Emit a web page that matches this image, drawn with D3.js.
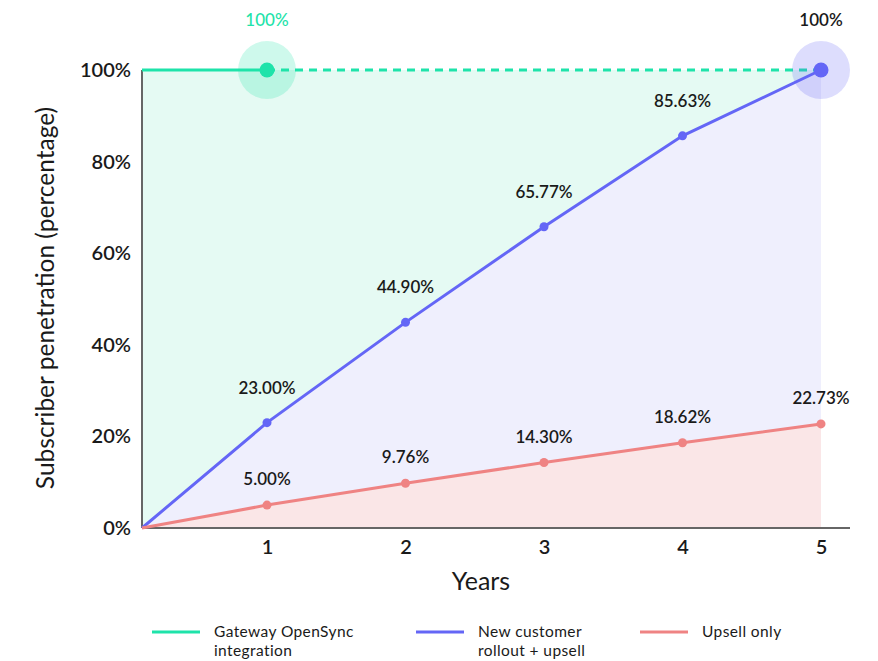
<!DOCTYPE html>
<html><head><meta charset="utf-8">
<script src="https://cdn.jsdelivr.net/npm/d3@7"></script>
<style>body{margin:0;background:#fff;font-family:Lato,"Open Sans",sans-serif;}</style>
</head><body>
<svg id="c" width="878" height="661"></svg>
<script>
const years = [0, 1, 2, 3, 4, 5];
const newCustomer = [0, 23.00, 44.90, 65.77, 85.63, 100];
const upsell = [0, 5.00, 9.76, 14.30, 18.62, 22.73];
const gatewayYears = [0, 1];
const gateway = [100, 100];
const yTicks = [0, 20, 40, 60, 80, 100];
const xTicks = [1, 2, 3, 4, 5];
const legendLabels = [["Gateway OpenSync", "integration"], ["New customer", "rollout + upsell"], ["Upsell only"]];
const colors = {green: "#1ee3aa", blue: "#6466f6", red: "#ef8383"};

const svg = d3.select("#c");
const x = d3.scaleLinear().domain([0, 1, 5]).range([142, 267, 821]);
const y = d3.scaleLinear().domain([0, 100]).range([528, 70]);

// Areas
const area = vals => d3.area().x((d, i) => x(years[i])).y0(y(0)).y1((d) => y(d))(vals);
svg.append("path").attr("d", area(years.map(() => 100))).attr("fill", "#e5faf3");
svg.append("path").attr("d", area(newCustomer)).attr("fill", "#efeffd");
svg.append("path").attr("d", area(upsell)).attr("fill", "#fae6e7");

// Axes
const yAxis = svg.append("g").attr("transform", `translate(${x(0)},0)`)
  .call(d3.axisLeft(y).tickValues(yTicks).tickSize(0).tickPadding(11).tickFormat(d => d + "%"));
const xAxis = svg.append("g").attr("transform", `translate(0,${y(0)})`)
  .call(d3.axisBottom(d3.scaleLinear().domain([0, 1, 5, 5.21]).range([142, 267, 821, 850])).tickValues(xTicks).tickSize(0).tickPadding(12).tickFormat(d3.format("d")));
[yAxis, xAxis].forEach(a => {
  a.select(".domain").attr("stroke", "#666").attr("stroke-width", 2);
  a.selectAll("text").attr("fill", "#1a1a1a").attr("font-size", 20).attr("font-weight", 600).attr("font-family", "Lato, sans-serif");
});
yAxis.select(".domain").attr("d", `M0,${y(0)}V${y(100)}`);
xAxis.select(".domain").attr("d", `M${x(0)},0H850`);

// Lines
const line = (xs, vals) => d3.line().x((d, i) => x(xs[i])).y(d => y(d))(vals);
svg.append("path").attr("d", line(gatewayYears, gateway)).attr("fill", "none").attr("stroke", colors.green).attr("stroke-width", 3);
svg.append("path").attr("d", line([1, 5], [100, 100])).attr("fill", "none").attr("stroke", colors.green).attr("stroke-width", 3).attr("stroke-dasharray", "8,6");
svg.append("path").attr("d", line(years, newCustomer)).attr("fill", "none").attr("stroke", colors.blue).attr("stroke-width", 3);
svg.append("path").attr("d", line(years, upsell)).attr("fill", "none").attr("stroke", colors.red).attr("stroke-width", 3);

// Highlight circles
svg.append("circle").attr("cx", x(1)).attr("cy", y(100)).attr("r", 29).attr("fill", colors.green).attr("opacity", 0.22);
svg.append("circle").attr("cx", x(1)).attr("cy", y(100)).attr("r", 7.5).attr("fill", colors.green);
svg.append("circle").attr("cx", x(5)).attr("cy", y(100)).attr("r", 29).attr("fill", colors.blue).attr("opacity", 0.22);

// Points
const pts = (vals, color, off) => {
  years.forEach((yr, i) => {
    if (i === 0) return;
    const big = (color === colors.blue && i === 5);
    svg.append("circle").attr("cx", x(yr)).attr("cy", y(vals[i])).attr("r", big ? 7.5 : 4.5).attr("fill", color);
    if (big) return;
    svg.append("text").attr("x", x(yr)).attr("y", y(vals[i]) - off).attr("text-anchor", "middle")
      .attr("font-size", 17).attr("font-weight", 600).attr("fill", "#1a1a1a").text(vals[i].toFixed(2) + "%");
  });
};
pts(newCustomer, colors.blue, 29);
pts(upsell, colors.red, 20);

svg.append("text").attr("x", x(1)).attr("y", 26).attr("text-anchor", "middle").attr("font-size", 17).attr("font-weight", 500).attr("fill", colors.green).text("100%");
svg.append("text").attr("x", x(5)).attr("y", 26).attr("text-anchor", "middle").attr("font-size", 17).attr("font-weight", 600).attr("fill", "#1a1a1a").text("100%");

// Titles
svg.append("text").attr("x", 481).attr("y", 590).attr("text-anchor", "middle").attr("font-size", 25).attr("fill", "#1a1a1a").text("Years");
svg.append("text").attr("transform", "translate(54,298) rotate(-90)").attr("text-anchor", "middle").attr("font-size", 24.5).attr("fill", "#1a1a1a").text("Subscriber penetration (percentage)");

// Legend
const lg = svg.append("g");
const lx = [152, 416, 640];
const lc = [colors.green, colors.blue, colors.red];
legendLabels.forEach((lab, i) => {
  lg.append("line").attr("x1", lx[i]).attr("x2", lx[i] + 48).attr("y1", 632).attr("y2", 632).attr("stroke", lc[i]).attr("stroke-width", 3);
  const t = lg.append("text").attr("x", lx[i] + 62).attr("y", 637).attr("font-size", 15.5).attr("letter-spacing", 0.4).attr("fill", "#1a1a1a");
  lab.forEach((s, j) => t.append("tspan").attr("x", lx[i] + 62).attr("dy", j ? 19 : 0).text(s));
});
</script>
</body></html>
